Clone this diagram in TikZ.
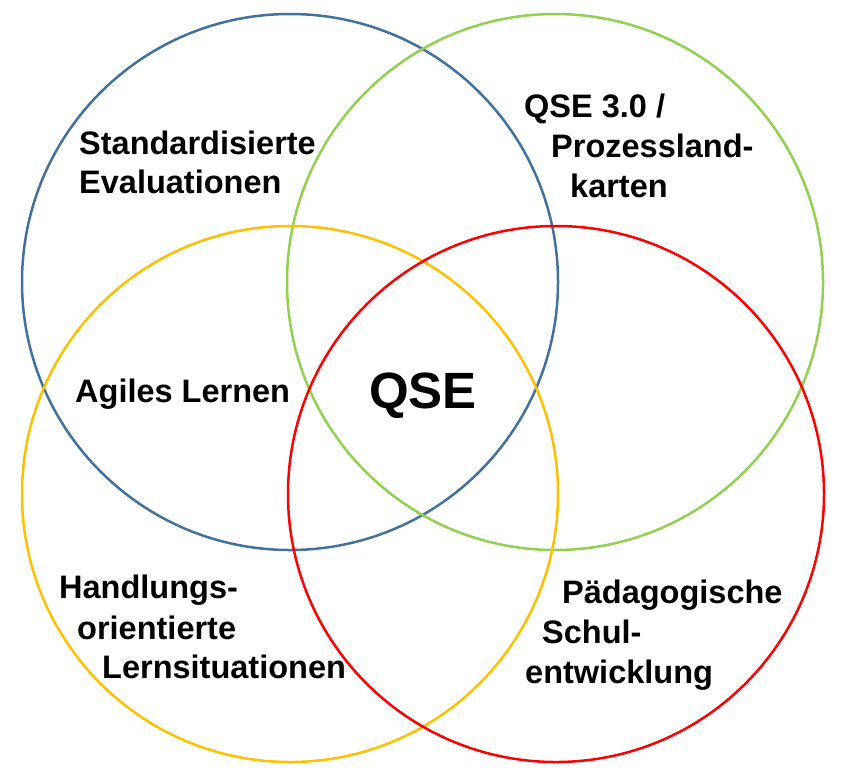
\documentclass[tikz,border=0pt]{standalone}
\usepackage{fontspec}
\setmainfont{Liberation Sans}
\usepackage{tikz}

\definecolor{qblue}{RGB}{65,113,156}
\definecolor{qgreen}{RGB}{146,208,80}
\definecolor{qyellow}{RGB}{255,192,0}
\definecolor{qred}{RGB}{255,0,0}

\tikzset{
  ring/.style={line width=2.5pt},
  lbl/.style={anchor=base west, inner sep=0pt, font=\bfseries\fontsize{32.5}{38}\selectfont},
}

\begin{document}
\begin{tikzpicture}[x=1pt,y=-1pt]
\useasboundingbox (0,0) rectangle (850,780);
% the four circles
\draw[ring,qblue] (290,282) circle[radius=268pt];
\draw[ring,qgreen] (555,282) circle[radius=268pt];
\draw[ring,qyellow] (290,494) circle[radius=268pt];
\draw[ring,qred] (556,494) circle[radius=268pt];
% labels
\node[lbl] (std1) at (79,154) {Standardisierte};
\node[lbl] (std2) at (79,193) {Evaluationen};
\node[lbl] (pro1) at (524,117) {QSE 3.0 /};
\node[lbl] (pro2) at (551,157) {Prozessland-};
\node[lbl] (pro3) at (570,197) {karten};
\node[lbl] (agil) at (75,402) {Agiles Lernen};
\node[lbl, font=\bfseries\fontsize{51}{60}\selectfont] (qse) at (369,408) {QSE};
\node[lbl] (hand1) at (59,598) {Handlungs-};
\node[lbl] (hand2) at (77,639) {orientierte};
\node[lbl] (hand3) at (102,678) {Lernsituationen};
\node[lbl] (paed1) at (562,603) {Pädagogische};
\node[lbl] (paed2) at (542,643) {Schul-};
\node[lbl] (paed3) at (525,683) {entwicklung};
\end{tikzpicture}
\end{document}
